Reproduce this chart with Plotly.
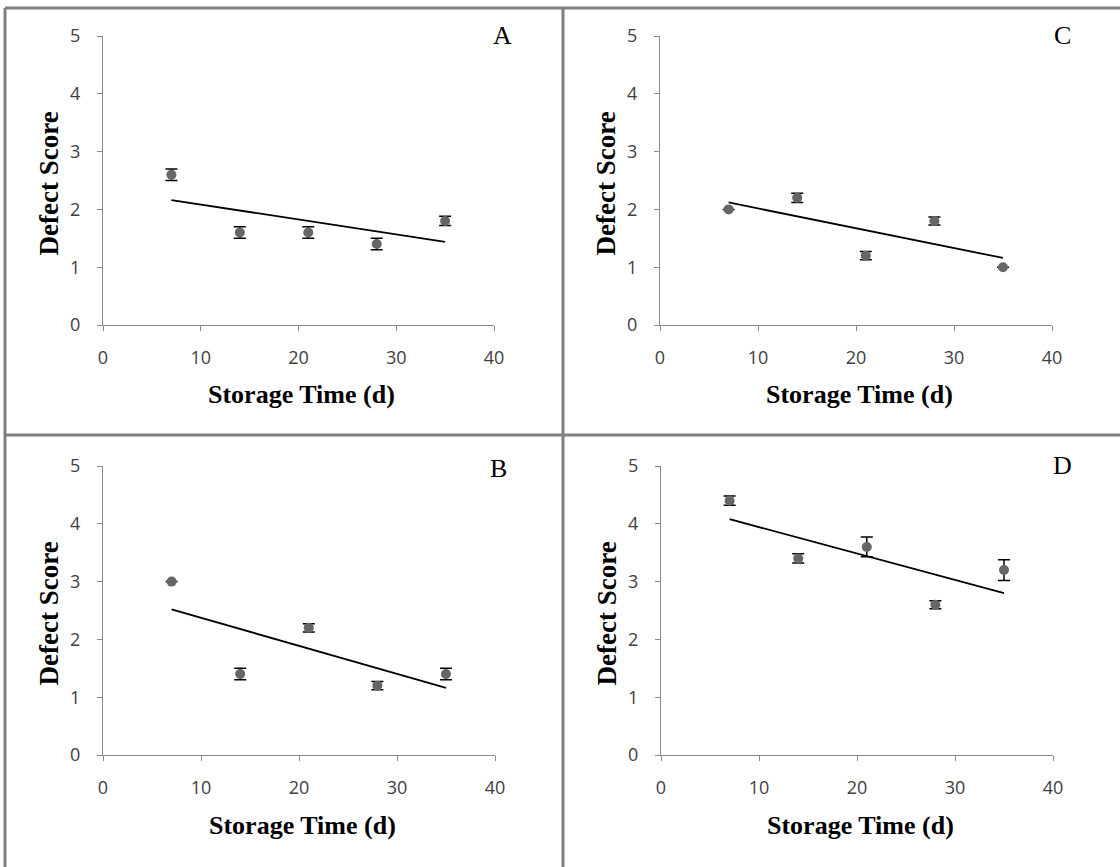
import numpy as np
import plotly.graph_objects as go

days = [7, 14, 21, 28, 35]
panel_names = ["A", "C", "B", "D"]
score_A = [2.6, 1.6, 1.6, 1.4, 1.8]
err_A = [0.1, 0.1, 0.1, 0.1, 0.08]
score_C = [2.0, 2.2, 1.2, 1.8, 1.0]
err_C = [0.0, 0.08, 0.07, 0.07, 0.0]
score_B = [3.0, 1.4, 2.2, 1.2, 1.4]
err_B = [0.0, 0.1, 0.07, 0.07, 0.1]
score_D = [4.4, 3.4, 3.6, 2.6, 3.2]
err_D = [0.08, 0.08, 0.17, 0.07, 0.18]
x_ticks = [0, 10, 20, 30, 40]
y_ticks = [0, 1, 2, 3, 4, 5]
x_title = "Storage Time (d)"
y_title = "Defect Score"

W, H = 1120, 867
def px(x): return x / W
def py(y): return 1 - y / H

# plot areas in pixels: (left, right, top, bottom)
areas = {
    "A": (103, 494, 36, 325),
    "C": (660, 1052, 36, 325),
    "B": (103, 495, 466, 755),
    "D": (661, 1053, 466, 755),
}
letter_pos = {"A": (502, 36), "C": (1062, 35), "B": (498, 468), "D": (1062, 466)}
data = {"A": (score_A, err_A), "C": (score_C, err_C), "B": (score_B, err_B), "D": (score_D, err_D)}

fig = go.Figure()
layout = dict(width=W, height=H, margin=dict(l=0, r=0, t=0, b=0, pad=0),
              paper_bgcolor="white", plot_bgcolor="white", showlegend=False)
annotations = []
tickfont = dict(family="Open Sans, Noto Sans, sans-serif", size=18, color="#404040")
xtitlefont = dict(family="Liberation Serif, Times New Roman, serif", size=26, color="black")
ytitlefont = dict(family="Liberation Serif, Times New Roman, serif", size=27, color="black")

for i, name in enumerate(panel_names):
    k = "" if i == 0 else str(i + 1)
    l, r, t, b = areas[name]
    ys, es = data[name]
    slope, intercept = np.polyfit(days, ys, 1)
    fit_x = [days[0], days[-1]]
    fit_y = [intercept + slope * v for v in fit_x]
    fig.add_trace(go.Scatter(x=fit_x, y=fit_y, mode="lines",
                             line=dict(color="black", width=1.8),
                             xaxis="x" + k, yaxis="y" + k, hoverinfo="skip"))
    fig.add_trace(go.Scatter(x=days, y=ys, mode="markers",
                             marker=dict(color="#666666", size=10),
                             error_y=dict(type="data", array=es, visible=True,
                                          color="black", thickness=1.5, width=6),
                             xaxis="x" + k, yaxis="y" + k))
    layout["xaxis" + k] = dict(domain=[px(l), px(r)], range=[0, 40], tickvals=x_ticks,
                               anchor="y" + k, showgrid=False, zeroline=False, automargin=False,
                               showline=True, linecolor="#8a8a8a", linewidth=1,
                               ticks="outside", ticklen=5, tickcolor="#8a8a8a",
                               tickfont=tickfont, ticklabelstandoff=11)
    layout["yaxis" + k] = dict(domain=[py(b), py(t)], range=[0, 5], tickvals=y_ticks,
                               anchor="x" + k, showgrid=False, zeroline=False, automargin=False,
                               showline=True, linecolor="#8a8a8a", linewidth=1,
                               ticks="outside", ticklen=5, tickcolor="#8a8a8a",
                               tickfont=tickfont, ticklabelstandoff=13)
    cx = (l + r) / 2 + 3
    annotations.append(dict(text="<b>" + x_title + "</b>", x=px(cx), y=py(b + 70),
                            xref="paper", yref="paper", showarrow=False,
                            xanchor="center", yanchor="middle", font=xtitlefont))
    annotations.append(dict(text="<b>" + y_title + "</b>", x=px(l - 55), y=py((t + b) / 2 + 3),
                            xref="paper", yref="paper", showarrow=False, textangle=-90,
                            xanchor="center", yanchor="middle", font=ytitlefont))
    lx, ly = letter_pos[name]
    annotations.append(dict(text=name, x=px(lx), y=py(ly),
                            xref="paper", yref="paper", showarrow=False,
                            xanchor="center", yanchor="middle",
                            font=dict(family="Liberation Serif, serif", size=26, color="black")))

layout["annotations"] = annotations
border = dict(color="#808080", width=3)
layout["shapes"] = [
    dict(type="line", xref="paper", yref="paper", x0=px(5), x1=1, y0=py(8), y1=py(8), line=border),
    dict(type="line", xref="paper", yref="paper", x0=px(5), x1=px(5), y0=py(8), y1=0, line=border),
    dict(type="line", xref="paper", yref="paper", x0=px(563), x1=px(563), y0=py(8), y1=0, line=border),
    dict(type="line", xref="paper", yref="paper", x0=px(5), x1=1, y0=py(435), y1=py(435), line=border),
]
fig.update_layout(**layout)
fig.write_html("out.html")
